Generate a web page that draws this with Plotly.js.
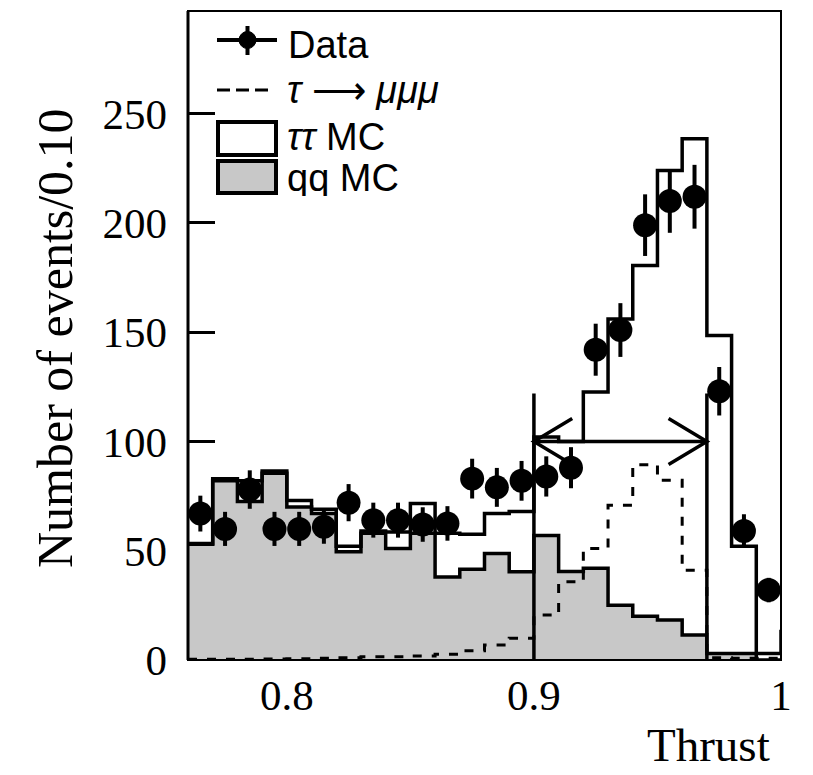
<!DOCTYPE html>
<html>
<head>
<meta charset="utf-8">
<script src="https://cdn.plot.ly/plotly-3.0.1.min.js"></script>
<style>
  html, body { margin: 0; padding: 0; background: #ffffff; }
  #chart { width: 813px; height: 775px; }
</style>
</head>
<body>
<div id="chart"></div>
<script>
// ---------------- data ----------------
const thrustBinLow = [0.76, 0.77, 0.78, 0.79, 0.80, 0.81, 0.82, 0.83, 0.84, 0.85, 0.86, 0.87,
                      0.88, 0.89, 0.90, 0.91, 0.92, 0.93, 0.94, 0.95, 0.96, 0.97, 0.98, 0.99];
const binWidth = 0.01;

const dataCounts = [67, 60, 78, 60, 60, 61, 72, 64, 64, 62, 62.5, 83,
                    79, 82, 84, 88, 142, 151, 199, 210, 212, 123, 59, 32];
const dataErrors = [8.2, 7.8, 8.8, 7.8, 7.8, 7.8, 8.5, 8.0, 8.0, 7.9, 7.9, 9.1,
                    8.9, 9.1, 9.2, 9.4, 11.9, 12.3, 14.1, 14.5, 14.6, 11.1, 7.7, 5.6];

const qqMC = [53, 82, 72.5, 85.5, 70, 67, 49.5, 58, 51, 58, 38, 41.5,
              48.7, 40.4, 57, 40.5, 42, 25, 20, 18.3, 11.4, 3, 3, 0];
const tautauMC = [0.3, 1, 9.5, 1, 3, 2, 2.5, 1, 7.6, 13.6, 20, 16,
                  18.3, 27.6, 45, 59.5, 80.6, 131, 160.5, 205.7, 227.1, 145.5, 49, 3];
const tautauOverflow = 13;   // bin above 1.0 (clipped by the frame)

const signalMC = [0.3, 0.3, 0.4, 0.5, 0.6, 0.8, 1.0, 1.5, 1.5, 1.8, 2.6, 4.2,
                  6.9, 9.9, 20.6, 35.8, 51, 70.8, 89.4, 82.3, 41.1, 1.0, 0.8, 0.8];

const cutLow = 0.90, cutHigh = 0.97;
const cutLineTop = 122, arrowLevel = 100;

const xTickVals = [0.8, 0.9, 1.0];
const xTickText = ['0.8', '0.9', '1'];
const yTickVals = [0, 50, 100, 150, 200, 250];

// ---------------- helpers ----------------
function stepX(extra) {
  const xs = thrustBinLow.slice();
  xs.push(thrustBinLow[thrustBinLow.length - 1] + binWidth);
  return extra ? xs.concat(extra) : xs;
}
function stepY(vals, extra) {
  const ys = vals.slice();
  ys.push(vals[vals.length - 1]);
  return extra ? ys.concat(extra) : ys;
}
const totalMC = qqMC.map((v, i) => v + tautauMC[i]);
const centers = thrustBinLow.map(v => v + binWidth / 2);

const BLACK = '#000000';
const GREY = '#c8c8c8';

const traces = [
  { // qq MC filled
    x: stepX(), y: stepY(qqMC), mode: 'lines', type: 'scatter',
    line: { shape: 'hv', color: BLACK, width: 3.5 },
    fill: 'tozeroy', fillcolor: GREY, showlegend: false, hoverinfo: 'skip'
  },
  { // tautau MC stacked on qq (outline)
    x: stepX([1.0, 1.01]), y: stepY(totalMC, [tautauOverflow, tautauOverflow]),
    mode: 'lines', type: 'scatter',
    line: { shape: 'hv', color: BLACK, width: 3.5 },
    showlegend: false, hoverinfo: 'skip'
  },
  { // tau -> mu mu mu signal
    x: stepX(), y: stepY(signalMC), mode: 'lines', type: 'scatter',
    line: { shape: 'hv', color: BLACK, width: 3, dash: '9px,10px' },
    showlegend: false, hoverinfo: 'skip'
  },
  { // cut lines
    x: [cutLow, cutLow, null, cutHigh, cutHigh], y: [0, cutLineTop, null, 0, cutLineTop],
    mode: 'lines', type: 'scatter', line: { color: BLACK, width: 3.5 },
    showlegend: false, hoverinfo: 'skip'
  },
  { // double arrow between cuts
    x: [cutLow, cutHigh, null,
        cutLow + 0.0155, cutLow, cutLow + 0.0155, null,
        cutHigh - 0.0155, cutHigh, cutHigh - 0.0155],
    y: [arrowLevel, arrowLevel, null,
        arrowLevel + 10.5, arrowLevel, arrowLevel - 10.5, null,
        arrowLevel + 10.5, arrowLevel, arrowLevel - 10.5],
    mode: 'lines', type: 'scatter', line: { color: BLACK, width: 3.5 },
    showlegend: false, hoverinfo: 'skip'
  },
  { // Data
    x: centers, y: dataCounts, mode: 'markers', type: 'scatter',
    marker: { color: BLACK, size: 24, symbol: 'circle' },
    error_y: { type: 'data', array: dataErrors, visible: true, color: BLACK, thickness: 4, width: 0 },
    cliponaxis: false, showlegend: false
  }
];

// pixel -> paper helpers for the hand-drawn legend
const L = 188, R = 781, T = 11, B = 660;
const px = v => (v - L) / (R - L);
const py = v => (B - v) / (B - T);

const shapes = [
  // frame
  { type: 'rect', xref: 'paper', yref: 'paper', x0: 0, x1: 1, y0: 0, y1: 1,
    line: { color: BLACK, width: 2 }, layer: 'above' },
  { type: 'line', xref: 'paper', yref: 'paper', x0: 0, x1: 0, y0: 0, y1: 1,
    line: { color: BLACK, width: 3 }, layer: 'above' },
  // legend: Data
  { type: 'line', xref: 'paper', yref: 'paper', x0: px(217), x1: px(277), y0: py(40), y1: py(40),
    line: { color: BLACK, width: 4 } },
  { type: 'line', xref: 'paper', yref: 'paper', x0: px(247.5), x1: px(247.5), y0: py(26), y1: py(55),
    line: { color: BLACK, width: 4 } },
  { type: 'circle', xref: 'paper', yref: 'paper', x0: px(239), x1: px(256), y0: py(48.5), y1: py(31.5),
    fillcolor: BLACK, line: { color: BLACK, width: 1 } },
  // legend: signal
  { type: 'line', xref: 'paper', yref: 'paper', x0: px(217), x1: px(268), y0: py(90), y1: py(90),
    line: { color: BLACK, width: 3, dash: '13px,6px' } },
  // legend: tautau MC
  { type: 'rect', xref: 'paper', yref: 'paper', x0: px(218), x1: px(276), y0: py(155), y1: py(122),
    fillcolor: '#ffffff', line: { color: BLACK, width: 4 } },
  // legend: qq MC
  { type: 'rect', xref: 'paper', yref: 'paper', x0: px(218), x1: px(276), y0: py(193), y1: py(161),
    fillcolor: GREY, line: { color: BLACK, width: 4 } }
];

const legFont = { family: 'Liberation Sans, Arial, sans-serif', size: 38, color: BLACK };
const annotations = [
  { xref: 'paper', yref: 'paper', x: px(286), y: py(45), xanchor: 'left', yanchor: 'middle',
    text: 'Data', showarrow: false, font: legFont, height: 40 },
  { xref: 'paper', yref: 'paper', x: px(285), y: py(90), xanchor: 'left', yanchor: 'middle',
    text: '<i>τ</i> ⟶ <i>μμμ</i>', showarrow: false, font: legFont, height: 40 },
  { xref: 'paper', yref: 'paper', x: px(285), y: py(137), xanchor: 'left', yanchor: 'middle',
    text: '<i>ττ</i> MC', showarrow: false, font: legFont, height: 36 },
  { xref: 'paper', yref: 'paper', x: px(285), y: py(178), xanchor: 'left', yanchor: 'middle',
    text: 'qq MC', showarrow: false, font: legFont, height: 36 },
  // axis titles
  { xref: 'paper', yref: 'paper', x: px(772), y: py(745), xanchor: 'right', yanchor: 'middle',
    text: 'Thrust', showarrow: false,
    font: { family: 'Liberation Serif, Times New Roman, serif', size: 47, color: BLACK } },
  { xref: 'paper', yref: 'paper', x: px(55), y: py(338), xanchor: 'center', yanchor: 'middle',
    text: 'Number of events/0.10', showarrow: false, textangle: -90,
    font: { family: 'Liberation Serif, Times New Roman, serif', size: 50, color: BLACK } }
];

const tickFont = { family: 'Liberation Serif, Times New Roman, serif', size: 43, color: BLACK };

const layout = {
  width: 813, height: 775,
  margin: { l: L, r: 813 - R, t: T, b: 775 - B, pad: 0 },
  paper_bgcolor: '#ffffff', plot_bgcolor: '#ffffff',
  showlegend: false,
  xaxis: {
    range: [0.76, 1.0], tickvals: xTickVals, ticktext: xTickText,
    ticks: '', showline: false, showgrid: false, zeroline: false,
    tickfont: tickFont, ticklabelstandoff: 6, fixedrange: true
  },
  yaxis: {
    range: [0, 297], tickvals: yTickVals,
    ticks: 'inside', ticklen: 27, tickwidth: 3, tickcolor: BLACK,
    showline: false, showgrid: false, zeroline: false, layer: 'below traces',
    tickfont: tickFont, ticklabelstandoff: 20, fixedrange: true
  },
  shapes: shapes,
  annotations: annotations
};

Plotly.newPlot('chart', traces, layout, { displayModeBar: false, staticPlot: true });
</script>
</body>
</html>
